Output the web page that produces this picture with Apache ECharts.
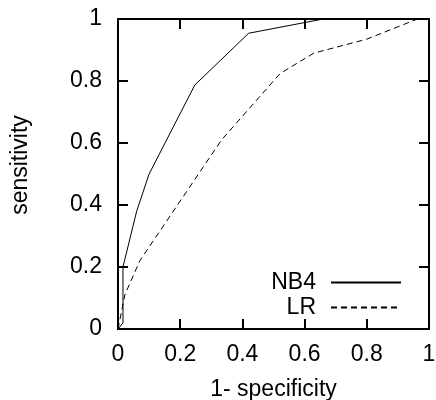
<!DOCTYPE html>
<html>
<head>
<meta charset="utf-8">
<script src="https://cdn.jsdelivr.net/npm/echarts@6/dist/echarts.min.js"></script>
<style>
html,body{margin:0;padding:0;background:#fff;}
#chart{width:436px;height:400px;}
</style>
</head>
<body>
<div id="chart"></div>
<script>
// ROC data
const nb4X = [0, 0.016, 0.016, 0.06, 0.1, 0.247, 0.42, 0.66, 1];
const nb4Y = [0, 0.02, 0.2, 0.38, 0.5, 0.787, 0.954, 1, 1];
const lrX = [0, 0.022, 0.07, 0.333, 0.521, 0.63, 0.8, 0.963, 1];
const lrY = [0, 0.11, 0.22, 0.61, 0.824, 0.89, 0.935, 1, 1];
const seriesNames = ['NB4', 'LR'];
const xAxisTitle = '1- specificity';
const yAxisTitle = 'sensitivity';

const FONT = 'Liberation Sans';
const FS = 23;

function pairs(xs, ys) { return xs.map((x, i) => [x, ys[i]]); }

const baseAxis = {
  min: 0, max: 1, interval: 0.2,
  splitLine: { show: false },
  axisLine: { show: true, onZero: false, lineStyle: { color: '#000', width: 2 } },
  axisTick: { show: true, inside: true, length: 10, lineStyle: { color: '#000', width: 2 } }
};

const legendBase = {
  orient: 'vertical', align: 'right',
  right: 29, itemWidth: 70, itemHeight: 14,
  itemStyle: { opacity: 0 },
  textStyle: { fontFamily: FONT, fontSize: FS, color: '#000', padding: [0, 10, 0, 0] }
};

const chart = echarts.init(document.getElementById('chart'), null, { renderer: 'canvas' });
chart.setOption({
  animation: false,
  backgroundColor: '#fff',
  grid: { left: 118, top: 19, width: 311, height: 310, containLabel: false, outerBoundsMode: 'none' },
  xAxis: [
    Object.assign({}, baseAxis, {
      type: 'value', position: 'bottom',
      name: xAxisTitle, nameLocation: 'middle', nameGap: 49,
      nameTextStyle: { fontFamily: FONT, fontSize: FS, color: '#000' },
      axisLabel: { margin: 14, fontFamily: FONT, fontSize: FS, color: '#000' }
    }),
    Object.assign({}, baseAxis, {
      type: 'value', position: 'top', axisLabel: { show: false }
    })
  ],
  yAxis: [
    Object.assign({}, baseAxis, {
      type: 'value', position: 'left',
      name: yAxisTitle, nameLocation: 'middle', nameGap: 86,
      nameTextStyle: { fontFamily: FONT, fontSize: FS, color: '#000', padding: [0, 0, 0, 18] },
      axisLabel: { margin: 16, fontFamily: FONT, fontSize: FS, color: '#000' }
    }),
    Object.assign({}, baseAxis, {
      type: 'value', position: 'right', axisLabel: { show: false }
    })
  ],
  legend: [
    Object.assign({}, legendBase, { data: [seriesNames[0]], top: 266 }),
    Object.assign({}, legendBase, { data: [seriesNames[1]], top: 291 })
  ],
  series: [
    {
      name: seriesNames[0], type: 'line', data: pairs(nb4X, nb4Y),
      symbol: 'none', showSymbol: false, color: '#000',
      lineStyle: { color: '#000', width: 1 }
    },
    {
      name: seriesNames[1], type: 'line', data: pairs(lrX, lrY),
      symbol: 'none', showSymbol: false, color: '#000',
      lineStyle: { color: '#000', width: 1, type: [6, 4] }
    }
  ]
});
</script>
</body>
</html>
